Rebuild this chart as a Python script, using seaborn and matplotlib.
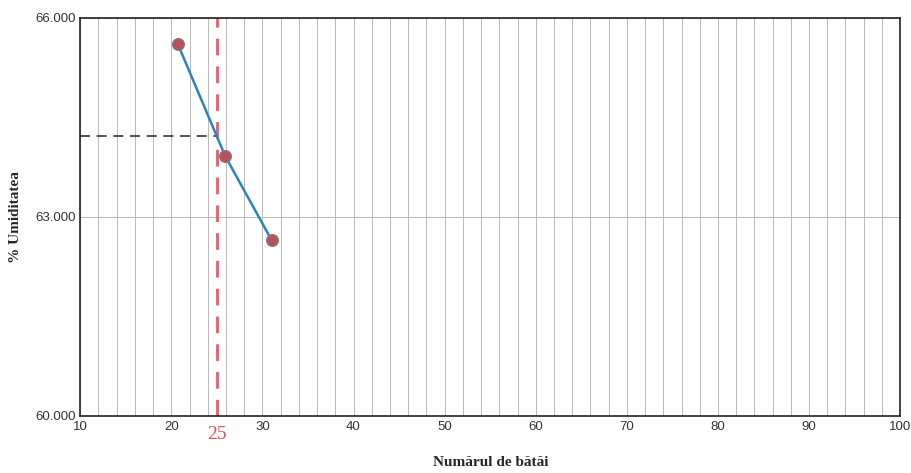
import numpy as np
import pandas as pd
import matplotlib.pyplot as plt
import seaborn as sns
from matplotlib.ticker import MultipleLocator, FormatStrFormatter

# values
blows = [20.7, 25.9, 31.0]
moisture = [65.61, 63.92, 62.65]
liquid_limit_blows = 25
liquid_limit_moisture = 64.22

df = pd.DataFrame({"blows": blows, "moisture": moisture})

sns.set_style("white")
plt.rcParams["font.family"] = ["Liberation Sans", "DejaVu Sans"]

fig = plt.figure(figsize=(9.12, 4.73), dpi=100)
ax = fig.add_axes([0.088, 0.121, 0.899, 0.841])

sns.lineplot(data=df, x="blows", y="moisture", ax=ax, color="#2b85bd",
             linewidth=1.8, zorder=3)
sns.scatterplot(data=df, x="blows", y="moisture", ax=ax, color="#b5535a",
                edgecolor="#8e6f7a", s=70, linewidth=1, zorder=4)

# liquid limit guides
ax.axvline(liquid_limit_blows, color="#e0606e", linestyle=(0, (6, 4)),
           linewidth=2, zorder=2)
ax.plot([10, liquid_limit_blows], [liquid_limit_moisture] * 2,
        color="#333333", linestyle=(0, (6, 4)), linewidth=1.2, zorder=2)

ax.set_xlim(10, 100)
ax.set_ylim(60, 66)
ax.xaxis.set_major_locator(MultipleLocator(10))
ax.xaxis.set_minor_locator(MultipleLocator(2))
ax.yaxis.set_major_locator(MultipleLocator(3))
ax.yaxis.set_major_formatter(FormatStrFormatter("%.3f"))
ax.grid(which="both", axis="x", color="#b8b8b8", linewidth=0.7)
ax.grid(which="major", axis="y", color="#b8b8b8", linewidth=0.7)
ax.tick_params(axis="both", labelsize=9.5, length=0, colors="#333333")

for side in ax.spines.values():
    side.set_color("#222222")
    side.set_linewidth(1.2)

ax.text(liquid_limit_blows, -0.025, "25", transform=ax.get_xaxis_transform(),
        ha="center", va="top", color="#d9535f", fontsize=14,
        family="Liberation Serif")

ax.set_xlabel("Numărul de bătăi", family="Liberation Serif", fontweight="bold",
              fontsize=11, labelpad=17)
ax.set_ylabel("% Umiditatea", family="Liberation Serif", fontweight="bold",
              fontsize=11, labelpad=9)

fig.savefig("out.png", dpi=100)
